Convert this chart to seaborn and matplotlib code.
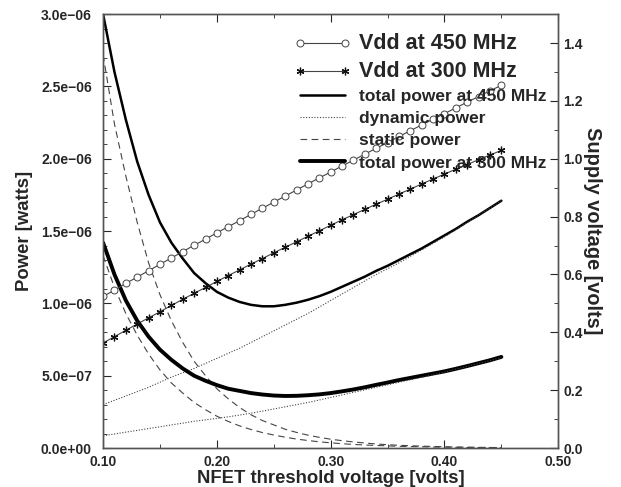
import numpy as np
import pandas as pd
import matplotlib
matplotlib.use("Agg")
import matplotlib.pyplot as plt
import matplotlib.ticker as mticker
import seaborn as sns

# ---------------- data ----------------
vt = [0.10, 0.11, 0.12, 0.13, 0.14, 0.15, 0.16, 0.17, 0.18, 0.19,
      0.20, 0.21, 0.22, 0.23, 0.24, 0.25, 0.26, 0.27, 0.28, 0.29,
      0.30, 0.31, 0.32, 0.33, 0.34, 0.35, 0.36, 0.37, 0.38, 0.39,
      0.40, 0.41, 0.42, 0.43, 0.44, 0.45]

# power values in microwatts
total_450 = [3.00, 2.60, 2.27, 1.98, 1.75, 1.56, 1.42, 1.31, 1.21, 1.14,
             1.08, 1.04, 1.01, 0.99, 0.98, 0.98, 0.99, 1.005, 1.025, 1.05,
             1.08, 1.115, 1.15, 1.185, 1.225, 1.26, 1.30, 1.34, 1.38, 1.425,
             1.47, 1.515, 1.565, 1.61, 1.66, 1.71]
dynamic_450 = [0.30, 0.33, 0.36, 0.39, 0.42, 0.455, 0.49, 0.52, 0.55, 0.585,
               0.62, 0.655, 0.69, 0.73, 0.77, 0.81, 0.85, 0.89, 0.93, 0.975,
               1.02, 1.065, 1.11, 1.155, 1.20, 1.24, 1.28, 1.325, 1.37, 1.415,
               1.46, 1.51, 1.56, 1.61, 1.66, 1.71]
static_450 = [2.72, 2.24, 1.88, 1.56, 1.28, 1.06, 0.88, 0.73, 0.60, 0.50,
              0.41, 0.34, 0.28, 0.23, 0.19, 0.16, 0.13, 0.108, 0.089, 0.074,
              0.061, 0.051, 0.042, 0.035, 0.028, 0.023, 0.019, 0.016, 0.013, 0.011,
              0.009, 0.007, 0.006, 0.005, 0.004, 0.003]

total_300 = [1.42, 1.20, 1.02, 0.88, 0.77, 0.68, 0.61, 0.55, 0.50, 0.465,
             0.435, 0.41, 0.395, 0.38, 0.37, 0.363, 0.36, 0.361, 0.365, 0.371,
             0.38, 0.392, 0.405, 0.42, 0.437, 0.453, 0.47, 0.485, 0.50, 0.515,
             0.53, 0.548, 0.567, 0.587, 0.607, 0.63]
dynamic_300 = [0.085, 0.097, 0.11, 0.122, 0.135, 0.147, 0.16, 0.172, 0.185, 0.195,
               0.205, 0.216, 0.228, 0.241, 0.255, 0.27, 0.285, 0.30, 0.315, 0.332,
               0.35, 0.367, 0.385, 0.402, 0.42, 0.437, 0.455, 0.472, 0.49, 0.507,
               0.525, 0.545, 0.565, 0.585, 0.605, 0.625]
static_300 = [1.33, 1.11, 0.93, 0.78, 0.65, 0.54, 0.45, 0.38, 0.315, 0.265,
              0.22, 0.184, 0.153, 0.128, 0.107, 0.09, 0.075, 0.062, 0.052, 0.043,
              0.036, 0.030, 0.025, 0.021, 0.018, 0.015, 0.012, 0.010, 0.009, 0.007,
              0.006, 0.005, 0.004, 0.0035, 0.003, 0.002]

vdd_450 = [0.524, 0.546, 0.569, 0.591, 0.613, 0.635, 0.657, 0.679, 0.701, 0.722,
           0.744, 0.765, 0.786, 0.808, 0.829, 0.850, 0.871, 0.892, 0.913, 0.934,
           0.954, 0.975, 0.995, 1.016, 1.036, 1.056, 1.077, 1.097, 1.117, 1.137,
           1.156, 1.176, 1.196, 1.215, 1.235, 1.254]
vdd_300 = [0.363, 0.385, 0.407, 0.429, 0.450, 0.471, 0.493, 0.514, 0.535, 0.555,
           0.576, 0.596, 0.616, 0.636, 0.655, 0.675, 0.694, 0.713, 0.732, 0.751,
           0.770, 0.789, 0.807, 0.825, 0.843, 0.860, 0.878, 0.895, 0.913, 0.930,
           0.947, 0.964, 0.980, 0.997, 1.013, 1.029]

x_ticks = [0.10, 0.20, 0.30, 0.40, 0.50]
left_ticks = [0.0, 0.5e-6, 1.0e-6, 1.5e-6, 2.0e-6, 2.5e-6, 3.0e-6]
right_ticks = [0.0, 0.2, 0.4, 0.6, 0.8, 1.0, 1.2, 1.4]

# ---------------- plotting ----------------
sns.set_style("white")
plt.rcParams['font.family'] = ['Liberation Sans', 'DejaVu Sans']
plt.rcParams['font.weight'] = 'bold'

fig = plt.figure(figsize=(6.21, 4.87), dpi=100)
ax = fig.add_axes([0.166, 0.080, 0.733, 0.891])
ax2 = ax.twinx()

scale = 1e-6
pw = pd.DataFrame({"vt": vt,
                   "t450": np.array(total_450) * scale,
                   "d450": np.array(dynamic_450) * scale,
                   "s450": np.array(static_450) * scale,
                   "t300": np.array(total_300) * scale,
                   "d300": np.array(dynamic_300) * scale,
                   "s300": np.array(static_300) * scale,
                   "v450": vdd_450, "v300": vdd_300})

gray = "#444444"
# Vdd curves on the right axis
sns.lineplot(data=pw, x="vt", y="v450", ax=ax2, color=gray, linewidth=0.8,
             marker="o", markersize=5, markerfacecolor="white",
             markeredgecolor=gray, markeredgewidth=0.7, label="Vdd at 450 MHz")
sns.lineplot(data=pw, x="vt", y="v300", ax=ax2, color=gray, linewidth=0.8,
             marker=(6, 2, 0), markersize=5.5, markeredgecolor="#111111",
             markeredgewidth=0.9, label="Vdd at 300 MHz")

# power curves on the left axis
sns.lineplot(data=pw, x="vt", y="t450", ax=ax, color="black", linewidth=1.8,
             label="total power at 450 MHz")
sns.lineplot(data=pw, x="vt", y="d450", ax=ax, color="#444444", linewidth=0.8,
             linestyle=(0, (1, 1.5)), label="dynamic power")
sns.lineplot(data=pw, x="vt", y="s450", ax=ax, color="#444444", linewidth=0.8,
             linestyle=(0, (6, 4)), label="static power")
sns.lineplot(data=pw, x="vt", y="t300", ax=ax, color="black", linewidth=2.8,
             label="total power at 300 MHz")
sns.lineplot(data=pw, x="vt", y="d300", ax=ax, color="#444444", linewidth=0.8,
             linestyle=(0, (1, 1.5)), label="_nolegend_")
sns.lineplot(data=pw, x="vt", y="s300", ax=ax, color="#444444", linewidth=0.8,
             linestyle=(0, (6, 4)), label="_nolegend_")

ax.set_xlim(0.10, 0.50)
ax.set_ylim(0, 3.0e-6)
ax2.set_ylim(0, 1.5)

ax.set_xticks(x_ticks)
ax.xaxis.set_major_formatter(mticker.FormatStrFormatter("%.2f"))
ax.xaxis.set_minor_locator(mticker.MultipleLocator(0.05))
ax.set_yticks(left_ticks)
ax.yaxis.set_major_formatter(mticker.FuncFormatter(
    lambda v, p: f"{v:.1e}".replace("-", "\u2212")))
ax.yaxis.set_minor_locator(mticker.MultipleLocator(1e-7))
ax2.set_yticks(right_ticks)
ax2.yaxis.set_major_formatter(mticker.FormatStrFormatter("%.1f"))
ax2.yaxis.set_minor_locator(mticker.MultipleLocator(0.1))

ax.tick_params(axis="x", which="both", direction="in", top=True, bottom=True,
               labelsize=10, pad=5)
ax.tick_params(axis="x", which="major", length=6)
ax.tick_params(axis="x", which="minor", length=3)
ax.tick_params(axis="y", which="major", direction="in", length=6, labelsize=10,
               left=True, right=False, pad=8)
ax.tick_params(axis="y", which="minor", direction="in", length=3, left=True,
               right=False)
ax2.tick_params(axis="y", which="major", direction="in", length=6, labelsize=10)
ax2.tick_params(axis="y", which="minor", direction="in", length=3)

for a in (ax, ax2):
    for s in a.spines.values():
        s.set_color("#555555")
        s.set_linewidth(1.0)

ax.set_xlabel("NFET threshold voltage [volts]", fontsize=13.3, fontweight="bold",
              labelpad=1)
ax.set_ylabel("Power [watts]", fontsize=13.3, fontweight="bold", labelpad=6)
ax2.set_ylabel("Supply voltage [volts]", fontsize=14.4, fontweight="bold",
               rotation=270, labelpad=14)

# legend combining both axes
if ax.get_legend():
    ax.get_legend().remove()
if ax2.get_legend():
    ax2.get_legend().remove()
h2, l2 = ax2.get_legend_handles_labels()
h1, l1 = ax.get_legend_handles_labels()
leg = ax2.legend(h2 + h1, l2 + l1, loc="upper right",
                 bbox_to_anchor=(0.99, 0.972), borderaxespad=0,
                 frameon=False, numpoints=2,
                 handlelength=3.2, handletextpad=0.5, labelspacing=0.4,
                 prop={"weight": "bold", "size": 12.5})
for i, t in enumerate(leg.get_texts()):
    t.set_fontsize(15.5 if i < 2 else 12.5)

fig.savefig("out.png", dpi=100)
